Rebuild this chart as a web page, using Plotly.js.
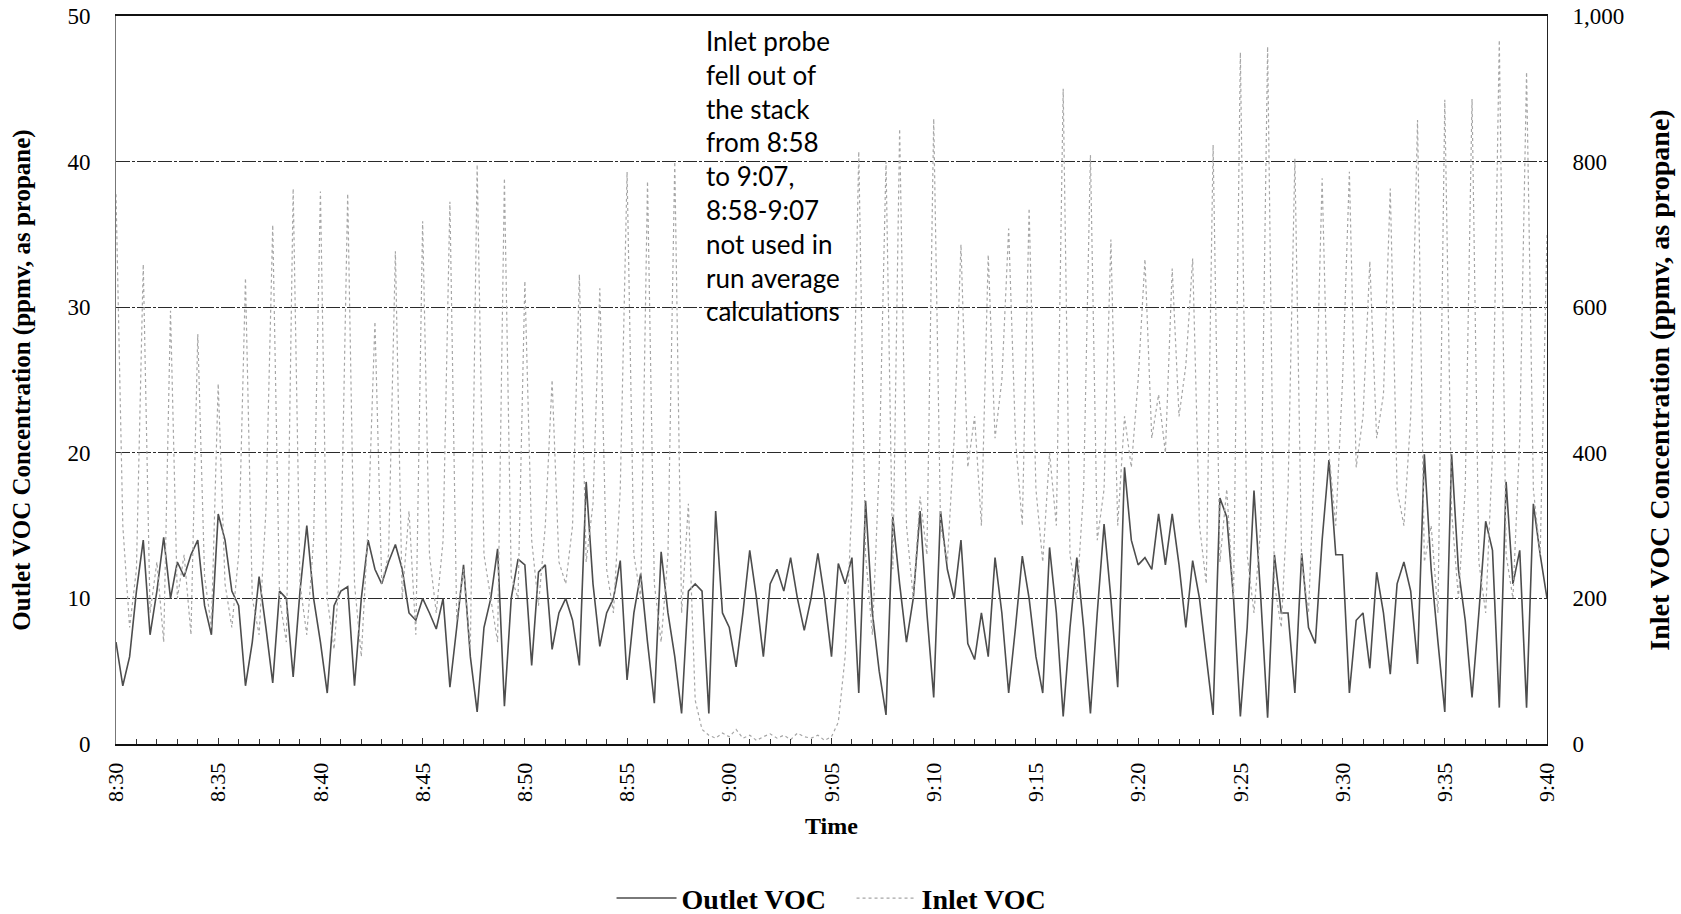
<!DOCTYPE html>
<html><head><meta charset="utf-8">
<script src="https://cdn.plot.ly/plotly-3.0.1.min.js"></script>
<style>html,body{margin:0;padding:0;background:#fff;} #chart{width:1681px;height:914px;}</style>
</head><body><div id="chart"></div>
<script>
// ---- data (one value every 20 s from 8:30 to 9:40) ----
const START_TIME = [8, 30];
const END_TIME = [9, 40];
const SAMPLE_SECONDS = 20;
const seriesNames = ['Outlet VOC', 'Inlet VOC'];
const leftTitle = 'Outlet VOC Concentration (ppmv, as propane)';
const rightTitle = 'Inlet VOC Concentration (ppmv, as propane)';
const xTitle = 'Time';
const noteLines = ['Inlet probe', 'fell out of', 'the stack', 'from 8:58', 'to 9:07,', '8:58-9:07', 'not used in', 'run average', 'calculations'];

const outletVOC = [
 7,4,6, 10.5,14,7.5, 10.5,14.2,10, 12.5,11.5,13, 14,9.5,7.5, 15.8,14,10.5, 9.5,4,7, 11.5,8,4.2, 10.5,10,4.6, 10.5,15,10,
 7,3.5,9.5, 10.5,10.8,4, 10,14,12, 11,12.5,13.7, 12,9,8.5, 10,9,7.9, 10,3.9,8, 12.3,6,2.2, 8,10,13.4, 2.6,10,12.7,
 12.3,5.4,11.8, 12.3,6.5,9, 10,8.5,5.4, 18,11,6.7, 9,10,12.6, 4.4,9,11.7, 7,2.8,13.2, 9,6,2.1, 10.5,11,10.5, 2.1,16,9,
 8,5.3,9, 13.3,10,6, 11,12,10.5, 12.8,10,7.8, 10,13.1,10, 6,12.4,11, 12.8,3.5,16.7, 9,5,2, 15.6,11,7, 10,16,9,
 3.2,16,12, 10,14,6.9, 5.8,9,6, 12.8,9,3.5, 8,12.9,10, 6,3.5,13.5, 9,1.9,8, 12.8,8,2.1, 9,15.1,10, 3.9,19,14,
 12.3,12.8,12, 15.8,12.3,15.8, 12.3,8,12.6, 10,6,2, 16.9,15.6,10, 1.9,8,17.4, 10,1.8,13, 9,9,3.5, 13.1,8,6.9, 14,19.5,13,
 13,3.5,8.5, 9,5.2,11.8, 9,4.8,11, 12.5,10.5,5.5, 19.9,12,7, 2.2,19.9,12, 8.5,3.2,9, 15.3,13.3,2.5, 18,11,13.3, 2.5,16.5,13,
 10
];

const inletVOC = [
 755,300,160, 240,659,180, 250,140,595, 200,260,150, 563,230,160, 495,220,160, 260,640,200, 150,320,713, 200,140,763, 220,150,280,
 759,200,130, 260,756,220, 120,300,580, 220,260,677, 200,320,150, 718,260,180, 280,745,170, 240,130,796, 260,200,140, 777,230,200,
 636,280,190, 300,500,250, 220,300,645, 250,330,626, 240,180,350, 786,260,200, 773,220,140, 260,800,180, 330,60,20, 12,8,15,
 10,20,8, 12,5,10, 14,8,12, 6,15,10, 8,12,5, 10,30,120, 330,814,260, 150,380,800, 240,845,300, 200,340,260,
 859,300,250, 420,686,380, 450,300,672, 420,500,708, 420,300,736, 350,250,400, 300,900,260, 200,350,809, 280,350,693, 300,450,380,
 500,666,420, 480,400,653, 450,520,667, 300,220,823, 250,350,200, 950,260,180, 300,958,220, 160,350,804, 250,180,420, 777,400,300,
 500,786,380, 450,663,420, 480,763,350, 300,450,857, 250,300,180, 885,320,200, 350,886,250, 180,400,967, 260,200,420, 923,350,260,
 700
];

// ---- build ----
const t0 = Date.UTC(2000, 0, 1, START_TIME[0], START_TIME[1]);
const t1 = Date.UTC(2000, 0, 1, END_TIME[0], END_TIME[1]);
const times = outletVOC.map((_, i) => t0 + i * SAMPLE_SECONDS * 1000);

const serif = 'Liberation Serif, Times New Roman, serif';

const traces = [
  {x: times, y: outletVOC, name: seriesNames[0], type: 'scatter', mode: 'lines',
   line: {color: '#4d4d4d', width: 1.6}, yaxis: 'y'},
  {x: times, y: inletVOC, name: seriesNames[1], type: 'scatter', mode: 'lines',
   line: {color: '#a6a6a6', width: 1.2, dash: 'dot'}, yaxis: 'y2'}
];

const layout = {
  width: 1681, height: 914,
  paper_bgcolor: '#fff', plot_bgcolor: '#fff',
  margin: {l: 116, r: 134, t: 16, b: 170, autoexpand: false},
  showlegend: true,
  legend: {orientation: 'h', x: 0.514, xanchor: 'center', y: -0.212, yanchor: 'middle',
           font: {family: serif, size: 28, color: '#000', weight: 'bold'}, itemwidth: 60,
           entrywidth: 165, entrywidthmode: 'pixels'},
  xaxis: {
    type: 'date', range: [t0, t1], tick0: t0, dtick: 5 * 60000, tickformat: '%-H:%M',
    tickangle: -90, tickfont: {family: serif, size: 22, color: '#000'},
    ticks: 'inside', ticklen: 6, tickcolor: '#333', ticklabelstandoff: 8,
    minor: {dtick: 60000, ticks: 'inside', ticklen: 5, tickcolor: '#333'},
    showgrid: false, showline: true, linecolor: '#111', linewidth: 2, mirror: true, zeroline: false,
    title: {text: xTitle, font: {family: serif, size: 24, color: '#000', weight: 'bold'}, standoff: 16}
  },
  yaxis: {
    range: [0, 50], dtick: 10, tickfont: {family: serif, size: 23, color: '#000'},
    ticks: '', ticklabelstandoff: 20,
    showgrid: true, gridcolor: '#2a2a2a', gridwidth: 1, griddash: '14px,2px,3px,2px',
    showline: true, linecolor: '#777', linewidth: 1, zeroline: false,
    title: {text: leftTitle, font: {family: serif, size: 25, color: '#000', weight: 'bold'}, standoff: 29}
  },
  yaxis2: {
    range: [0, 1000], dtick: 200, tickformat: ',d', overlaying: 'y', side: 'right',
    tickfont: {family: serif, size: 23, color: '#000'}, ticks: '', ticklabelstandoff: 20,
    showgrid: false, showline: true, linecolor: '#222', linewidth: 1, zeroline: false,
    title: {text: rightTitle, font: {family: serif, size: 28, color: '#000', weight: 'bold'}, standoff: 26}
  },
  annotations: [{
    text: noteLines.join('<br>'), xref: 'paper', yref: 'paper', x: 0.411, y: 0.99,
    xanchor: 'left', yanchor: 'top', align: 'left', showarrow: false,
    font: {family: 'Lato, Carlito, Calibri, sans-serif', size: 26, color: '#000'}
  }]
};

Plotly.newPlot('chart', traces, layout, {displayModeBar: false, staticPlot: true});
</script>
</body></html>
